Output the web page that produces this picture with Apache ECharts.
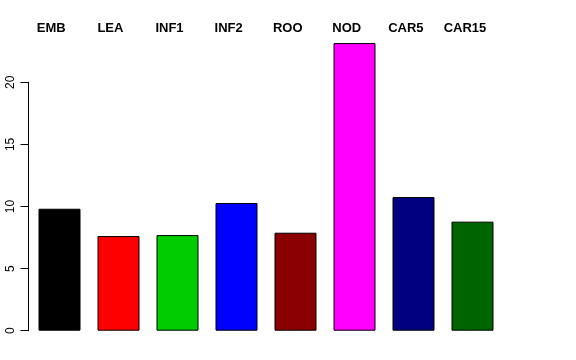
<!DOCTYPE html>
<html>
<head>
<meta charset="utf-8">
<script src="https://cdn.jsdelivr.net/npm/echarts@6/dist/echarts.min.js"></script>
<style>html,body{margin:0;padding:0;background:#fff}#c{width:576px;height:360px}</style>
</head>
<body>
<div id="c"></div>
<script>
const categories = ["EMB", "LEA", "INF1", "INF2", "ROO", "NOD", "CAR5", "CAR15"];
const values = [9.82, 7.62, 7.70, 10.28, 7.89, 23.16, 10.76, 8.78];
const barColors = ["#000000", "#FF0000", "#00CD00", "#0000FF", "#8B0000", "#FF00FF", "#000080", "#006400"];
const yTicks = [0, 5, 10, 15, 20];

const chart = echarts.init(document.getElementById('c'), null, {renderer: 'canvas'});
const font = '"Liberation Sans", Arial, Helvetica, sans-serif';
chart.setOption({
  animation: false,
  backgroundColor: '#fff',
  grid: [
    {left: 30, right: 74, top: 82.3, bottom: 29.3},
    {left: 21.75, right: 81.45, top: 41, bottom: 29.3}
  ],
  xAxis: [
    {type: 'category', gridIndex: 0, data: categories, show: false},
    {type: 'category', gridIndex: 1, data: categories, position: 'top',
     axisLine: {show: false}, axisTick: {show: false},
     axisLabel: {align: 'center', margin: 6, fontFamily: font, fontWeight: 'bold', fontSize: 13, color: '#000', interval: 0}}
  ],
  yAxis: [
    {type: 'value', gridIndex: 0, min: yTicks[0], max: yTicks[yTicks.length - 1], interval: 5, offset: 1.5,
     splitLine: {show: false},
     axisLine: {show: true, lineStyle: {color: '#000', width: 1}},
     axisTick: {show: true, length: 8, lineStyle: {color: '#000'}},
     axisLabel: {rotate: 90, margin: 12, fontFamily: font, fontSize: 12, color: '#000'}},
    {type: 'value', gridIndex: 1, show: false}
  ],
  series: [{
    type: 'bar',
    xAxisIndex: 0, yAxisIndex: 0,
    clip: false,
    barWidth: 42,
    data: values.map((v, i) => ({value: v, itemStyle: {color: barColors[i]}})),
    itemStyle: {borderColor: '#000', borderWidth: 1}
  }]
});
</script>
</body>
</html>
